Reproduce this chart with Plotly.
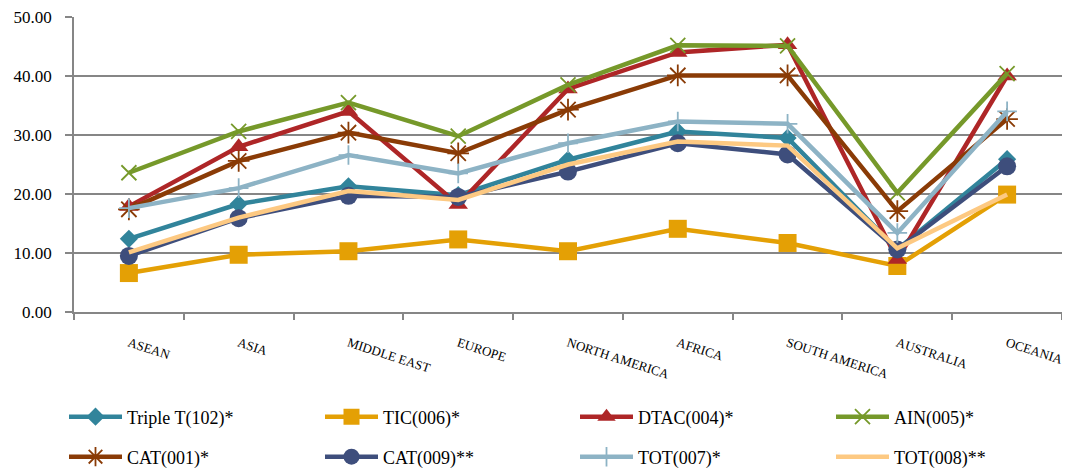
import plotly.graph_objects as go

categories = ["ASEAN", "ASIA", "MIDDLE EAST", "EUROPE", "NORTH AMERICA",
              "AFRICA", "SOUTH AMERICA", "AUSTRALIA", "OCEANIA"]

triple_t_102 = [12.4, 18.3, 21.3, 19.8, 25.8, 30.6, 29.5, 10.6, 25.9]
tic_006      = [6.6, 9.7, 10.3, 12.3, 10.3, 14.1, 11.7, 7.8, 19.9]
dtac_004     = [17.9, 28.0, 34.0, 18.2, 37.8, 44.0, 45.3, 8.9, 40.0]
ain_005      = [23.6, 30.6, 35.5, 29.8, 38.5, 45.2, 45.1, 20.2, 40.4]
cat_001      = [17.4, 25.6, 30.4, 26.9, 34.3, 40.1, 40.1, 17.1, 32.7]
cat_009      = [9.5, 15.9, 19.7, 19.5, 23.8, 28.6, 26.7, 10.6, 24.7]
tot_007      = [17.6, 21.0, 26.6, 23.5, 28.6, 32.3, 31.9, 13.4, 34.0]
tot_008      = [10.1, 16.0, 20.5, 19.0, 25.0, 28.9, 28.2, 10.8, 19.9]

y_ticks = [0, 10, 20, 30, 40, 50]
y_tick_labels = ["0.00", "10.00", "20.00", "30.00", "40.00", "50.00"]

FONT = "'Liberation Serif', 'Times New Roman', serif"

series = [
    ("Triple T(102)*", triple_t_102, "#31849B", dict(symbol="diamond", size=14)),
    ("TIC(006)*", tic_006, "#E4A005", dict(symbol="square", size=18)),
    ("DTAC(004)*", dtac_004, "#AE2627", dict(symbol="triangle-up", size=17)),
    ("AIN(005)*", ain_005, "#76992A", dict(symbol="x-thin-open", size=15, line=dict(width=1.8))),
    ("CAT(001)*", cat_001, "#8A3B06", dict(symbol="asterisk-open", size=18, line=dict(width=1.8))),
    ("CAT(009)**", cat_009, "#3E4E7C", dict(symbol="circle", size=18)),
    ("TOT(007)*", tot_007, "#8DB3C5", dict(symbol="cross-thin-open", size=14, line=dict(width=1.8))),
    ("TOT(008)**", tot_008, "#FDC982", dict(symbol="circle", size=1, opacity=0)),
]

# The page shows the figure offset by the 8px body margin; work in page pixels.
PAGE_OFF = 8
plot_l, plot_w, plot_t, plot_h = 74, 988, 17, 295
leg_x_px = [64, 320, 575, 831, 64, 320, 575, 831]
leg_y_px = [417, 417, 417, 417, 457, 457, 457, 457]

fig = go.Figure()
layout_legends = {}
for i, (name, vals, color, mk) in enumerate(series):
    marker = dict(color=color, **mk)
    if "line" in marker:
        marker["line"] = dict(color=color, width=mk["line"]["width"])
    lname = "legend" if i == 0 else f"legend{i + 1}"
    fig.add_trace(go.Scatter(
        x=categories, y=vals, name=name, mode="lines+markers",
        line=dict(color=color, width=4.5),
        marker=marker, legend=lname,
    ))
    layout_legends[lname] = dict(
        x=(leg_x_px[i] - plot_l) / plot_w, xanchor="left",
        y=(plot_t + plot_h - leg_y_px[i]) / plot_h, yanchor="middle",
        font=dict(size=18, family=FONT), itemwidth=53,
        bgcolor="rgba(0,0,0,0)", borderwidth=0,
    )

fig.update_layout(
    width=1070 - PAGE_OFF, height=470 - PAGE_OFF,
    margin=dict(l=plot_l - PAGE_OFF, r=8, t=plot_t - PAGE_OFF, b=158, autoexpand=False),
    paper_bgcolor="white", plot_bgcolor="white",
    font=dict(family=FONT, color="#000000"),
    showlegend=True,
    **layout_legends,
)

fig.update_xaxes(
    type="category", tickangle=18, tickfont=dict(size=13, family=FONT),
    showline=True, linecolor="#868686", linewidth=1.5,
    ticks="outside", tickson="boundaries", ticklen=6, tickcolor="#868686", tickwidth=1.5,
    showgrid=False, ticklabelstandoff=17, range=[-0.5, 8.5], automargin=False,
)
fig.update_yaxes(
    range=[0, 50], tickvals=y_ticks, ticktext=y_tick_labels,
    tickfont=dict(size=17, family=FONT), ticklabeloverflow="allow",
    showline=True, linecolor="#868686", linewidth=1.5,
    ticks="outside", ticklen=7, tickcolor="#868686", tickwidth=1.5,
    showgrid=True, gridcolor="#868686", gridwidth=1.5,
    zeroline=False, ticklabelstandoff=10, automargin=False,
)

fig.write_html("out.html")
